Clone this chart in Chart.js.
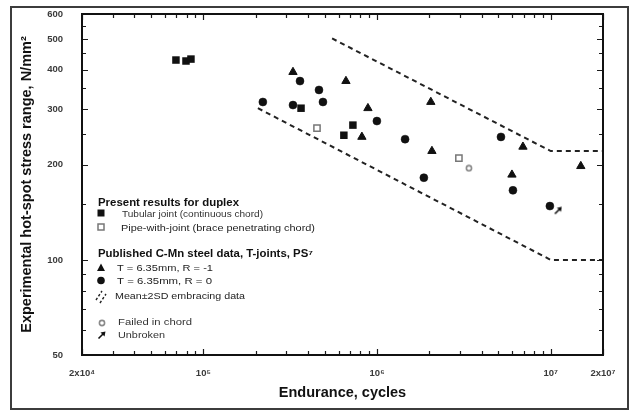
<!DOCTYPE html>
<html>
<head>
<meta charset="utf-8">
<script src="https://cdn.jsdelivr.net/npm/chart.js@4.4.1/dist/chart.umd.min.js"></script>
<style>
  html, body { margin: 0; padding: 0; background: #fff; }
  canvas { display: block; }
</style>
</head>
<body>
<canvas id="chart" width="632" height="411"></canvas>
<script>
// ---- axis ticks ----
const xTicks = [2e4, 3e4, 4e4, 5e4, 6e4, 7e4, 8e4, 9e4,
                1e5, 2e5, 3e5, 4e5, 5e5, 6e5, 7e5, 8e5, 9e5,
                1e6, 2e6, 3e6, 4e6, 5e6, 6e6, 7e6, 8e6, 9e6,
                1e7, 2e7];
const xLabelled = [2e4, 1e5, 1e6, 1e7, 2e7];
const xLabels = ['2x10⁴', '10⁵', '10⁶', '10⁷', '2x10⁷'];

const yTicks = [50, 60, 70, 80, 90, 100, 150, 200, 250, 300, 350, 400, 450, 500, 550, 600];
const yLabelled = [50, 100, 200, 300, 400, 500, 600];
const yLabels = ['50', '100', '200', '300', '400', '500', '600'];

// ---- duplex results: tubular joints (continuous chord) ----
const tubularN = [69500, 79400, 84800, 365000, 726000, 644000];
const tubularS = [429, 426, 432, 302, 267, 248];

// ---- duplex results: pipe-with-joint (brace penetrating chord) ----
const pipeN = [451000, 2960000];
const pipeS = [261, 210];

// ---- published C-Mn steel T-joints, T = 6.35mm, R = -1 ----
const rMinus1N = [328000, 662000, 886000, 818000, 2040000, 2070000, 6920000, 5980000, 14900000];
const rMinus1S = [393, 368, 302, 245, 316, 221, 228, 186, 198];

// ---- published C-Mn steel T-joints, T = 6.35mm, R = 0 ----
const rZeroN = [220000, 328000, 360000, 463000, 488000, 998000, 1450000, 1860000, 5170000, 6060000, 9890000];
const rZeroS = [316, 309, 368, 345, 316, 275, 241, 182, 245, 166, 148];

// ---- annotations ----
const failedN = [3380000];
const failedS = [195];
const unbrokenN = [11000000];
const unbrokenS = [143];

// ---- mean ± 2SD band of the published data ----
const upperN = [551000, 1e7, 2e7];
const upperS = [502, 221, 221];
const lowerN = [206000, 1e7, 2e7];
const lowerS = [302, 100, 100];

const FONT = "'Liberation Sans', Arial, sans-serif";
const toXY = (n, s) => n.map((v, i) => ({ x: v, y: s[i] }));

// small marker images
function arrowMarker() {
  const c = document.createElement('canvas');
  c.width = 9; c.height = 9;
  const g = c.getContext('2d');
  g.strokeStyle = '#111'; g.fillStyle = '#111'; g.lineWidth = 1.6;
  g.beginPath(); g.moveTo(1.5, 7.5); g.lineTo(6, 3); g.stroke();
  g.beginPath(); g.moveTo(8.5, 0.5); g.lineTo(3.5, 1.5); g.lineTo(7.5, 5.5); g.closePath(); g.fill();
  return c;
}
function failedMarker() {
  const c = document.createElement('canvas');
  c.width = 8; c.height = 8;
  const g = c.getContext('2d');
  g.strokeStyle = '#8a8a8a'; g.lineWidth = 1.6;
  g.beginPath(); g.arc(4, 4, 2.6, 0, Math.PI * 2); g.stroke();
  return c;
}
const ARROW = arrowMarker();
const FAILED = failedMarker();

function fitText(ctx, text, x, y, w, font, color) {
  ctx.save();
  ctx.font = font;
  ctx.fillStyle = color;
  ctx.textAlign = 'left';
  ctx.textBaseline = 'middle';
  const m = ctx.measureText(text).width;
  ctx.translate(x, y);
  ctx.scale(w / m, 1);
  ctx.fillText(text, 0, 0);
  ctx.restore();
}

// frame, inward ticks and the key
const decor = {
  id: 'decor',
  afterDraw(chart) {
    const { ctx, chartArea: a, scales: { x, y } } = chart;
    ctx.save();
    ctx.strokeStyle = '#1a1a1a';
    ctx.lineWidth = 1.2;
    xTicks.forEach(v => {
      const px = Math.round(x.getPixelForValue(v)) + 0.5;
      const len = xLabelled.includes(v) ? 6 : 4;
      ctx.beginPath();
      ctx.moveTo(px, a.bottom); ctx.lineTo(px, a.bottom - len);
      ctx.moveTo(px, a.top); ctx.lineTo(px, a.top + len);
      ctx.stroke();
    });
    yTicks.forEach(v => {
      const py = Math.round(y.getPixelForValue(v)) + 0.5;
      const len = yLabelled.includes(v) ? 6 : 4;
      ctx.beginPath();
      ctx.moveTo(a.left, py); ctx.lineTo(a.left + len, py);
      ctx.moveTo(a.right, py); ctx.lineTo(a.right - len, py);
      ctx.stroke();
    });
    ctx.lineWidth = 2;
    ctx.strokeStyle = '#111';
    ctx.strokeRect(a.left, a.top, a.right - a.left, a.bottom - a.top);

    // outer border
    ctx.strokeStyle = '#3c3c3c';
    ctx.lineWidth = 2;
    ctx.strokeRect(11, 7, 617, 402);

    // key
    const bold = 'bold 10px ' + FONT;
    const reg = '9.5px ' + FONT;
    fitText(ctx, 'Present results for duplex', 98, 203, 141, bold, '#111');
    ctx.fillStyle = '#111';
    ctx.fillRect(97.5, 209.5, 7, 7);
    fitText(ctx, 'Tubular joint (continuous chord)', 122, 214, 141, reg, '#333');
    ctx.fillStyle = '#fff'; ctx.strokeStyle = '#777'; ctx.lineWidth = 1.5;
    ctx.fillRect(98, 224, 6, 6); ctx.strokeRect(98, 224, 6, 6);
    fitText(ctx, 'Pipe-with-joint (brace penetrating chord)', 121, 228, 194, reg, '#222');

    fitText(ctx, 'Published C-Mn steel data, T-joints, PS⁷', 98, 254, 215, bold, '#111');
    ctx.fillStyle = '#111';
    ctx.beginPath(); ctx.moveTo(101, 263.5); ctx.lineTo(105, 271); ctx.lineTo(97, 271); ctx.closePath(); ctx.fill();
    fitText(ctx, 'T = 6.35mm, R = -1', 117, 268, 96, reg, '#222');
    ctx.beginPath(); ctx.arc(101, 280.5, 3.8, 0, Math.PI * 2); ctx.fill();
    fitText(ctx, 'T = 6.35mm, R = 0', 117, 281, 95, reg, '#222');
    ctx.strokeStyle = '#222'; ctx.lineWidth = 1.4; ctx.setLineDash([2.5, 2]);
    ctx.beginPath();
    ctx.moveTo(96, 300); ctx.lineTo(102, 291);
    ctx.moveTo(100, 303); ctx.lineTo(106, 294);
    ctx.stroke();
    ctx.setLineDash([]);
    fitText(ctx, 'Mean±2SD embracing data', 115, 296, 130, reg, '#222');

    ctx.drawImage(FAILED, 98, 319);
    fitText(ctx, 'Failed in chord', 118, 322, 74, reg, '#333');
    ctx.drawImage(ARROW, 97, 331);
    fitText(ctx, 'Unbroken', 118, 335, 47, reg, '#333');
    ctx.restore();
  }
};

const dashed = {
  showLine: true, borderColor: '#222', borderWidth: 2, borderDash: [5, 4],
  pointRadius: 0, fill: false, tension: 0
};

new Chart(document.getElementById('chart'), {
  type: 'scatter',
  data: {
    datasets: [
      { label: 'Tubular joint', data: toXY(tubularN, tubularS), pointStyle: 'rect',
        pointRadius: 5.3, backgroundColor: '#111', borderColor: '#111', borderWidth: 0 },
      { label: 'Pipe-with-joint', data: toXY(pipeN, pipeS), pointStyle: 'rect',
        pointRadius: 4.4, backgroundColor: '#fff', borderColor: '#777', borderWidth: 1.5 },
      { label: 'R = -1', data: toXY(rMinus1N, rMinus1S), pointStyle: 'triangle',
        pointRadius: 4.8, backgroundColor: '#111', borderColor: '#111', borderWidth: 1 },
      { label: 'R = 0', data: toXY(rZeroN, rZeroS), pointStyle: 'circle',
        pointRadius: 4, backgroundColor: '#111', borderColor: '#111', borderWidth: 0.5 },
      { label: 'Failed in chord', data: toXY(failedN, failedS), pointStyle: FAILED },
      { label: 'Unbroken', data: toXY(unbrokenN, unbrokenS), pointStyle: ARROW },
      Object.assign({ label: 'Mean+2SD', data: toXY(upperN, upperS) }, dashed),
      Object.assign({ label: 'Mean-2SD', data: toXY(lowerN, lowerS) }, dashed)
    ]
  },
  options: {
    responsive: false,
    animation: false,
    layout: { padding: { left: 15, right: 29, top: 14, bottom: 0 } },
    plugins: { legend: { display: false }, tooltip: { enabled: false } },
    scales: {
      x: {
        type: 'logarithmic', min: 2e4, max: 2e7,
        grid: { display: false, drawTicks: false },
        border: { display: false },
        afterBuildTicks: s => { s.ticks = xTicks.map(v => ({ value: v })); },
        afterFit: s => { s.height = 56; s.paddingLeft = 0; s.paddingRight = 0; },
        ticks: {
          autoSkip: false, maxRotation: 0, minRotation: 0, padding: 13,
          color: '#3a3a3a', font: { family: FONT, size: 9.5, weight: 'bold' },
          callback: v => { const i = xLabelled.indexOf(v); return i >= 0 ? xLabels[i] : ''; }
        },
        title: { display: true, text: 'Endurance, cycles', color: '#111',
          font: { family: FONT, size: 14.5, weight: 'bold' }, padding: { top: 0, bottom: 9 } }
      },
      y: {
        type: 'logarithmic', min: 50, max: 600,
        grid: { display: false, drawTicks: false },
        border: { display: false },
        afterBuildTicks: s => { s.ticks = yTicks.map(v => ({ value: v })); },
        afterFit: s => { s.width = 67; s.paddingTop = 0; s.paddingBottom = 0; },
        ticks: {
          autoSkip: false, padding: 19,
          color: '#3a3a3a', font: { family: FONT, size: 9.5, weight: 'bold' },
          callback: v => { const i = yLabelled.indexOf(v); return i >= 0 ? yLabels[i] : ''; }
        },
        title: { display: true, text: 'Experimental hot-spot stress range, N/mm²', color: '#111',
          font: { family: FONT, size: 14.5, weight: 'bold' }, padding: { top: 3, bottom: 0 } }
      }
    }
  },
  plugins: [decor]
});
</script>
</body>
</html>
